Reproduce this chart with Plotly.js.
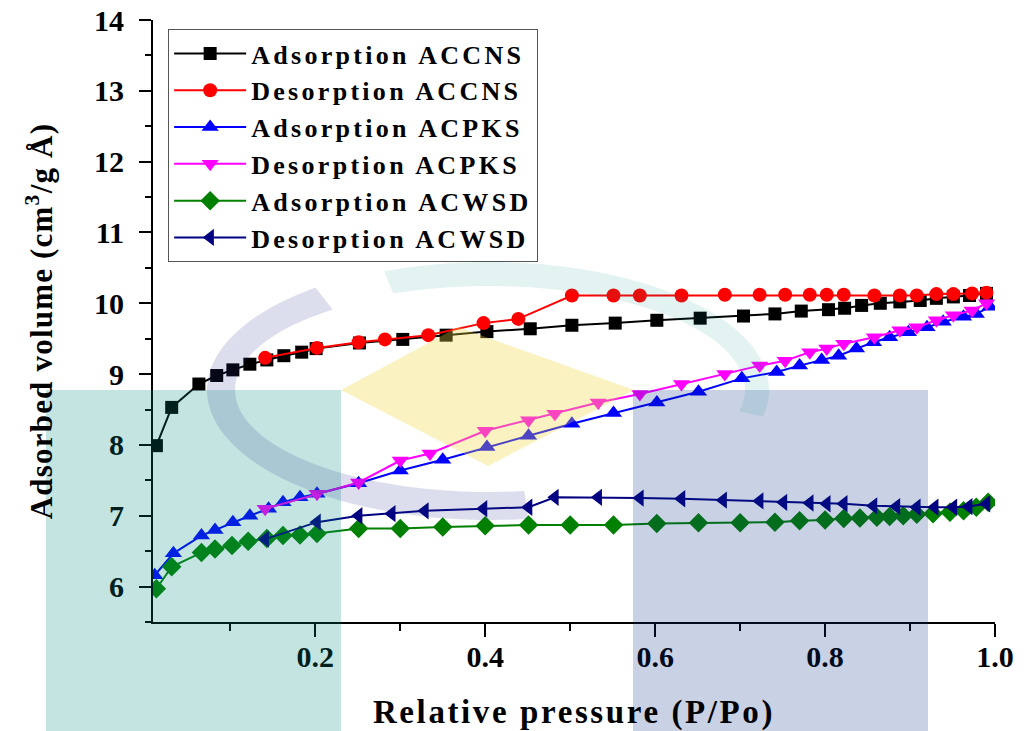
<!DOCTYPE html>
<html>
<head>
<meta charset="utf-8">
<script src="https://cdn.plot.ly/plotly-3.0.1.min.js"></script>
<style>
  html, body { margin: 0; padding: 0; background: #fff; }
  #chart { width: 1025px; height: 731px; }
  .legendtext { letter-spacing: 3.3px; }
  .xtitle { letter-spacing: 2.6px; }
  .ytitle { letter-spacing: 1.2px; }
</style>
</head>
<body>
<div id="chart"></div>
<script>
// ---------- data ----------
const adsACCNS_x = [0.013, 0.031, 0.063, 0.084, 0.103, 0.123, 0.143, 0.163, 0.184, 0.201, 0.252, 0.303, 0.354, 0.402, 0.453, 0.502, 0.553, 0.602, 0.653, 0.704, 0.741, 0.772, 0.804, 0.823, 0.843, 0.865, 0.888, 0.912, 0.931, 0.951, 0.970, 0.990];
const adsACCNS_y = [7.99, 8.53, 8.86, 8.98, 9.06, 9.14, 9.20, 9.26, 9.31, 9.36, 9.44, 9.49, 9.55, 9.60, 9.64, 9.69, 9.72, 9.76, 9.79, 9.82, 9.85, 9.89, 9.91, 9.93, 9.97, 10.00, 10.02, 10.04, 10.07, 10.09, 10.11, 10.14];

const desACCNS_x = [0.141, 0.202, 0.251, 0.282, 0.333, 0.398, 0.439, 0.502, 0.551, 0.582, 0.631, 0.682, 0.723, 0.753, 0.782, 0.802, 0.822, 0.858, 0.888, 0.908, 0.931, 0.951, 0.973, 0.990];
const desACCNS_y = [9.23, 9.37, 9.45, 9.49, 9.55, 9.72, 9.78, 10.11, 10.11, 10.11, 10.11, 10.12, 10.12, 10.12, 10.12, 10.12, 10.12, 10.11, 10.11, 10.11, 10.13, 10.13, 10.14, 10.15];

const adsACPKS_x = [0.011, 0.033, 0.066, 0.082, 0.103, 0.123, 0.145, 0.162, 0.182, 0.202, 0.251, 0.300, 0.350, 0.402, 0.451, 0.502, 0.551, 0.602, 0.651, 0.702, 0.743, 0.770, 0.796, 0.816, 0.837, 0.857, 0.876, 0.898, 0.920, 0.939, 0.963, 0.978, 0.994];
const adsACPKS_y = [6.16, 6.47, 6.72, 6.80, 6.91, 7.00, 7.10, 7.19, 7.26, 7.31, 7.46, 7.64, 7.79, 7.97, 8.13, 8.30, 8.45, 8.60, 8.75, 8.94, 9.03, 9.12, 9.20, 9.26, 9.36, 9.45, 9.52, 9.59, 9.66, 9.74, 9.81, 9.85, 9.95];

const desACPKS_x = [0.141, 0.202, 0.251, 0.300, 0.335, 0.400, 0.451, 0.482, 0.533, 0.582, 0.631, 0.682, 0.723, 0.753, 0.782, 0.802, 0.822, 0.858, 0.888, 0.908, 0.931, 0.951, 0.973, 0.990];
const desACPKS_y = [7.10, 7.31, 7.47, 7.78, 7.88, 8.20, 8.35, 8.44, 8.60, 8.72, 8.86, 9.00, 9.12, 9.19, 9.31, 9.36, 9.43, 9.52, 9.62, 9.66, 9.76, 9.83, 9.90, 10.00];

const adsACWSD_x = [0.013, 0.031, 0.066, 0.082, 0.102, 0.121, 0.143, 0.162, 0.182, 0.202, 0.251, 0.300, 0.350, 0.400, 0.451, 0.500, 0.551, 0.602, 0.651, 0.700, 0.741, 0.770, 0.800, 0.822, 0.841, 0.861, 0.876, 0.892, 0.908, 0.927, 0.947, 0.963, 0.978, 0.992];
const adsACWSD_y = [5.97, 6.28, 6.48, 6.53, 6.58, 6.64, 6.68, 6.72, 6.73, 6.75, 6.82, 6.82, 6.84, 6.86, 6.87, 6.87, 6.87, 6.89, 6.90, 6.90, 6.91, 6.93, 6.94, 6.96, 6.97, 6.98, 6.99, 7.00, 7.02, 7.03, 7.05, 7.07, 7.12, 7.19];

const desACWSD_x = [0.141, 0.202, 0.251, 0.290, 0.329, 0.398, 0.451, 0.482, 0.533, 0.582, 0.631, 0.680, 0.723, 0.751, 0.782, 0.802, 0.822, 0.857, 0.884, 0.908, 0.929, 0.951, 0.969, 0.990];
const desACWSD_y = [6.67, 6.91, 7.00, 7.03, 7.07, 7.10, 7.12, 7.26, 7.26, 7.25, 7.24, 7.22, 7.21, 7.19, 7.18, 7.17, 7.17, 7.14, 7.13, 7.12, 7.12, 7.12, 7.13, 7.17];

const seriesNames = ['Adsorption ACCNS', 'Desorption ACCNS', 'Adsorption ACPKS', 'Desorption ACPKS', 'Adsorption ACWSD', 'Desorption ACWSD'];
const xTickVals = [0.2, 0.4, 0.6, 0.8, 1.0];
const xTickText = ['0.2', '0.4', '0.6', '0.8', '1.0'];
const yTickVals = [6, 7, 8, 9, 10, 11, 12, 13, 14];

// ---------- styles ----------
const FONT = 'Liberation Serif, Times New Roman, serif';
const styles = [
  {color: '#000000', symbol: 'square', size: 13},
  {color: '#ff0000', symbol: 'circle', size: 14},
  {color: '#0000ff', symbol: 'triangle-up', size: 15},
  {color: '#ff00ff', symbol: 'triangle-down', size: 15},
  {color: '#008000', symbol: 'diamond', size: 15},
  {color: '#000080', symbol: 'triangle-left', size: 15}
];
const xs = [adsACCNS_x, desACCNS_x, adsACPKS_x, desACPKS_x, adsACWSD_x, desACWSD_x];
const ys = [adsACCNS_y, desACCNS_y, adsACPKS_y, desACPKS_y, adsACWSD_y, desACWSD_y];

const traces = seriesNames.map((n, i) => ({
  type: 'scatter', mode: 'lines+markers', name: n,
  x: xs[i], y: ys[i],
  line: {color: styles[i].color, width: 2},
  marker: {color: styles[i].color, symbol: styles[i].symbol, size: styles[i].size}
}));

// ---------- watermark decoration (paper coords from pixel positions) ----------
const L = 153, R = 995, T = 20, B = 622;
const px = v => (v - L) / (R - L);
const py = v => (B - v) / (B - T);
function poly(pts) {
  return 'M' + pts.map(p => px(p[0]).toFixed(4) + ',' + py(p[1]).toFixed(4)).join('L') + 'Z';
}
function ringBand(cx, cy, rx, ry, w, a0, a1) {
  const pts = [];
  const n = 60;
  for (let k = 0; k <= n; k++) {
    const a = (a0 + (a1 - a0) * k / n) * Math.PI / 180;
    pts.push([cx + (rx + w / 2) * Math.cos(a), cy - (ry + w / 2) * Math.sin(a)]);
  }
  for (let k = n; k >= 0; k--) {
    const a = (a0 + (a1 - a0) * k / n) * Math.PI / 180;
    pts.push([cx + (rx - w / 2) * Math.cos(a), cy - (ry - w / 2) * Math.sin(a)]);
  }
  return poly(pts);
}
const shapes = [
  {type: 'rect', xref: 'paper', yref: 'paper', x0: px(46), x1: px(341), y0: py(390), y1: py(731),
   fillcolor: 'rgba(0,140,130,0.23)', line: {width: 0}, layer: 'above'},
  {type: 'rect', xref: 'paper', yref: 'paper', x0: px(633), x1: px(928), y0: py(390), y1: py(731),
   fillcolor: 'rgba(10,46,132,0.22)', line: {width: 0}, layer: 'above'},
  {type: 'path', xref: 'paper', yref: 'paper', path: poly([[341, 390], [458, 327], [634, 390], [488, 466]]),
   fillcolor: 'rgba(241,215,62,0.32)', line: {width: 0}, layer: 'above'},
  {type: 'path', xref: 'paper', yref: 'paper', path: ringBand(489, 390, 268, 116, 28, 128, 278),
   fillcolor: 'rgba(40,50,140,0.16)', line: {width: 0}, layer: 'above'},
  {type: 'path', xref: 'paper', yref: 'paper', path: ringBand(489, 390, 268, 116, 24, -12, 112),
   fillcolor: 'rgba(0,150,140,0.11)', line: {width: 0}, layer: 'above'}
];

const axisCommon = {
  showgrid: false, zeroline: false, showline: true, linecolor: '#000', linewidth: 2,
  tickcolor: '#000', tickwidth: 2
};

const layout = {
  width: 1025, height: 731,
  margin: {l: L, r: 1025 - R, t: T, b: 731 - B, pad: 0},
  paper_bgcolor: '#ffffff', plot_bgcolor: 'rgba(0,0,0,0)',
  font: {family: FONT, color: '#000'},
  showlegend: true,
  legend: {
    x: 0.018, y: 0.985, xanchor: 'left', yanchor: 'top',
    bgcolor: 'rgba(255,255,255,1)', bordercolor: '#555', borderwidth: 1,
    font: {family: FONT, size: 26, color: '#000', weight: 'bold'},
    itemwidth: 72, tracegroupgap: 0
  },
  xaxis: Object.assign({}, axisCommon, {
    range: [0.009, 1.0], tickmode: 'array', tickvals: xTickVals, ticktext: xTickText,
    ticks: 'outside', ticklen: 13, ticklabelstandoff: -6,
    minor: {dtick: 0.1, tick0: 0, ticks: 'outside', ticklen: 7, tickcolor: '#000', tickwidth: 2},
    tickfont: {family: FONT, size: 30, weight: 'bold'},
    title: {text: 'Relative pressure (P/Po)', font: {family: FONT, size: 33, weight: 'bold'}, standoff: 28}
  }),
  yaxis: Object.assign({}, axisCommon, {
    range: [5.5, 14], tickmode: 'array', tickvals: yTickVals,
    ticks: 'outside', ticklen: 12, ticklabelstandoff: 9,
    minor: {dtick: 0.5, tick0: 5.5, ticks: 'outside', ticklen: 6, tickcolor: '#000', tickwidth: 2},
    tickfont: {family: FONT, size: 30, weight: 'bold'},
    title: {text: 'Adsorbed volume (cm<sup>3</sup>/g Å)', font: {family: FONT, size: 31, weight: 'bold'}, standoff: 32}
  }),
  xaxis2: Object.assign({}, axisCommon, {
    overlaying: 'x', side: 'top', anchor: 'y', range: [0, 1],
    tickmode: 'linear', tick0: 0, dtick: 0.2, ticks: 'inside', ticklen: 12,
    minor: {dtick: 0.1, tick0: 0, ticks: 'inside', ticklen: 7, tickcolor: '#000', tickwidth: 2},
    showticklabels: false
  }),
  yaxis2: Object.assign({}, axisCommon, {
    overlaying: 'y', side: 'right', anchor: 'x', range: [0, 5],
    tickmode: 'linear', tick0: 0, dtick: 1, ticks: 'inside', ticklen: 12,
    minor: {dtick: 0.5, tick0: 0, ticks: 'inside', ticklen: 6, tickcolor: '#000', tickwidth: 2},
    showticklabels: false
  }),
  shapes: shapes
};

Plotly.newPlot('chart', traces, layout, {staticPlot: true, displayModeBar: false});
</script>
</body>
</html>
